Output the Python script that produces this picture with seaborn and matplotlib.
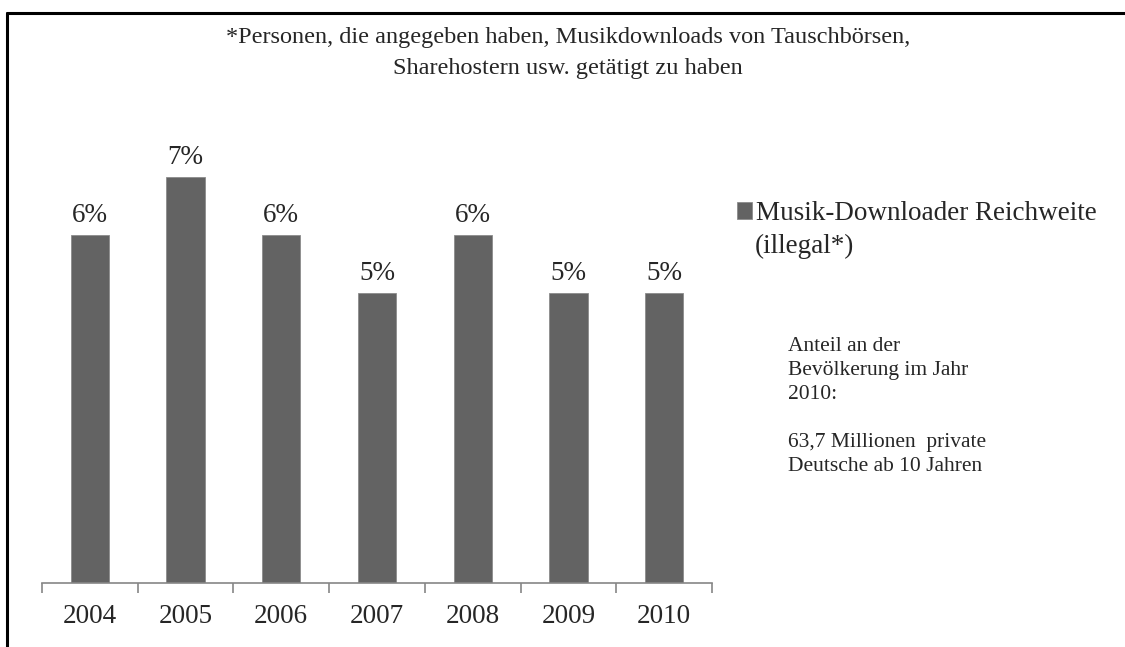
import numpy as np
import pandas as pd
import seaborn as sns
import matplotlib.pyplot as plt
from matplotlib.lines import Line2D

# data
years = ["2004", "2005", "2006", "2007", "2008", "2009", "2010"]
reach = [6, 7, 6, 5, 6, 5, 5]
series_name = ["Musik-Downloader Reichweite", "(illegal*)"]
title = "*Personen, die angegeben haben, Musikdownloads von Tauschbörsen,\nSharehostern usw. getätigt zu haben"
note = "Anteil an der\nBevölkerung im Jahr\n2010:\n\n63,7 Millionen  private\nDeutsche ab 10 Jahren"

sns.set_style("white")
plt.rcParams['font.family'] = ['Liberation Serif', 'DejaVu Serif']

df = pd.DataFrame({"Jahr": years, "Reichweite": reach})

fig = plt.figure(figsize=(11.25, 6.47), dpi=100)
ax = fig.add_axes([42/1125, 1 - 583/647, 670/1125, (583 - 61)/647])

sns.barplot(data=df, x="Jahr", y="Reichweite", color="#636363", width=0.4,
            saturation=1, edgecolor="#8c8c8c", linewidth=0.6, ax=ax,
            label=series_name[0])

ax.bar_label(ax.containers[0], labels=[f"{v}%" for v in reach],
             padding=5, fontsize=19.5)

ax.set_ylim(0, 9)
ax.set_xlim(-0.5, len(years) - 0.5)
ax.set_xlabel("")
ax.set_ylabel("")
ax.set_yticks([])
for s in ["top", "right", "left"]:
    ax.spines[s].set_visible(False)
ax.spines["bottom"].set_color("#868686")
ax.spines["bottom"].set_linewidth(1.2)

# labels at centres, tick marks at category boundaries
ax.set_xticks(np.arange(len(years)))
ax.set_xticklabels(years, fontsize=19.5)
ax.tick_params(axis="x", which="major", length=0, pad=15)
ax.set_xticks(np.arange(len(years) + 1) - 0.5, minor=True)
ax.tick_params(axis="x", which="minor", length=7, width=1.2, color="#868686",
               direction="out", bottom=True)

fig.text(568/1125, 1 - 27/647, title, ha="center", va="top", fontsize=17.5,
         linespacing=1.6)

handles, labels = ax.get_legend_handles_labels()
if ax.get_legend() is not None:
    ax.get_legend().remove()
fig.legend(handles, labels, loc="upper left",
           bbox_to_anchor=(737/1125, 1 - 201/647), frameon=False,
           fontsize=19.5, handlelength=0.55, handleheight=0.55,
           handletextpad=0.15, borderaxespad=0, borderpad=0)
fig.text(755/1125, 1 - 234/647, series_name[1], ha="left", va="top",
         fontsize=19.5)

fig.text(788/1125, 1 - 337/647, note, ha="left", va="top", fontsize=15.5,
         linespacing=1.36)

# partial frame around the figure
fig.add_artist(Line2D([7/1125, 1], [1 - 13/647, 1 - 13/647],
                      transform=fig.transFigure, color="black", lw=2.2))
fig.add_artist(Line2D([7/1125, 7/1125], [0, 1 - 13/647],
                      transform=fig.transFigure, color="black", lw=2.2))

fig.savefig("out.png", dpi=100)
